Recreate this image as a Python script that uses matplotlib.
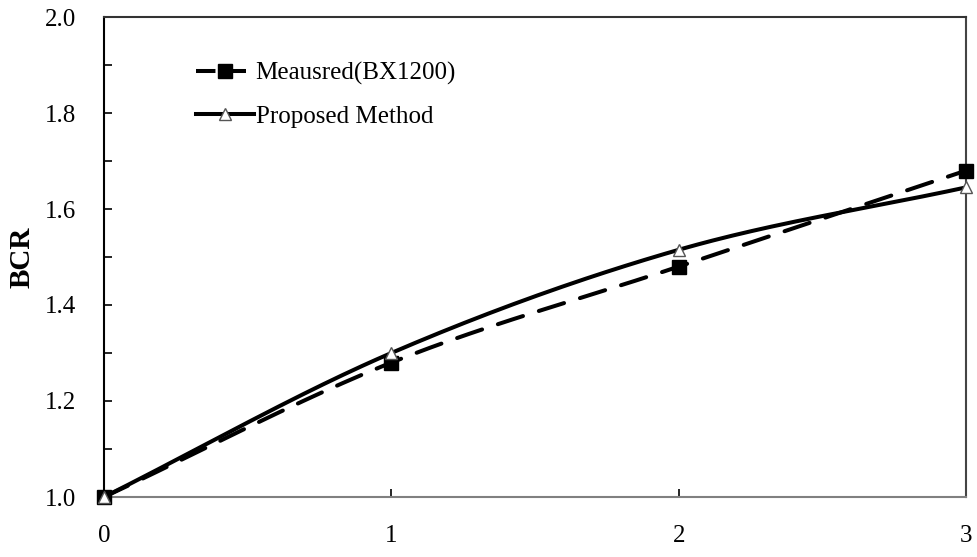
import numpy as np
import matplotlib
matplotlib.use("Agg")
import matplotlib.pyplot as plt
from matplotlib.ticker import MultipleLocator, FormatStrFormatter

# Data
x_vals = [0, 1, 2, 3]
measured = [1.00, 1.28, 1.48, 1.68]
proposed = [1.00, 1.30, 1.515, 1.645]
series_labels = ["Meausred(BX1200)", "Proposed Method"]
y_label = "BCR"


def smooth(xs, ys, n=60):
    """Catmull-Rom smoothing through the data points (spreadsheet-style smoothed line)."""
    xs = np.asarray(xs, float)
    ys = np.asarray(ys, float)
    px = np.concatenate([[2 * xs[0] - xs[1]], xs, [2 * xs[-1] - xs[-2]]])
    py = np.concatenate([[2 * ys[0] - ys[1]], ys, [2 * ys[-1] - ys[-2]]])
    ox, oy = [], []
    t = np.linspace(0, 1, n)
    for i in range(1, len(px) - 2):
        p0, p1, p2, p3 = (np.array([px[j], py[j]]) for j in range(i - 1, i + 3))
        c1 = p1 + (p2 - p0) / 6
        c2 = p2 - (p3 - p1) / 6
        b = ((1 - t) ** 3)[:, None] * p1 + (3 * (1 - t) ** 2 * t)[:, None] * c1 \
            + (3 * (1 - t) * t ** 2)[:, None] * c2 + (t ** 3)[:, None] * p2
        if i > 1:
            b = b[1:]
        ox.extend(b[:, 0])
        oy.extend(b[:, 1])
    return np.array(ox), np.array(oy)


plt.rcParams["font.family"] = ["Liberation Serif", "DejaVu Serif"]
plt.rcParams["lines.scale_dashes"] = False

fig = plt.figure(figsize=(9.77, 5.57), dpi=100)
ax = fig.add_axes([104 / 977, 1 - 497 / 557, 862 / 977, 480 / 557])

lw = 2.9
fs = 18
sx, sy = smooth(x_vals, measured)
ax.plot(sx, sy, color="black", lw=lw, dashes=(19, 12), dash_capstyle="round",
        clip_on=False, zorder=3)
sx2, sy2 = smooth(x_vals, proposed)
ax.plot(sx2, sy2, color="black", lw=lw, solid_capstyle="round", clip_on=False, zorder=3)

ax.plot(x_vals, measured, ls="none", marker="s", ms=9.5, color="black",
        clip_on=False, zorder=4)
ax.plot(x_vals, proposed, ls="none", marker="^", ms=9, mfc="white", mec="#555555",
        mew=1.0, clip_on=False, zorder=5)

# Legend proxies
h1, = ax.plot([], [], color="black", lw=lw, dashes=(14, 8), marker="s", ms=9.5)
h2, = ax.plot([], [], color="black", lw=lw, marker="^", ms=9, mfc="white",
              mec="#555555", mew=1.0)
fig.legend([h1, h2], series_labels, loc="upper left",
           bbox_to_anchor=(196 / 977, 1 - 62 / 557), frameon=False, fontsize=fs,
           handlelength=2.3, handletextpad=0.08, labelspacing=0.8,
           borderpad=0, borderaxespad=0)

ax.set_xlim(0, 3)
ax.set_ylim(1.0, 2.0)
ax.xaxis.set_major_locator(MultipleLocator(1))
ax.yaxis.set_major_locator(MultipleLocator(0.2))
ax.yaxis.set_minor_locator(MultipleLocator(0.1))
ax.yaxis.set_major_formatter(FormatStrFormatter("%.1f"))
ax.tick_params(axis="both", direction="in", length=6, width=1.2, labelsize=fs,
               colors="black")
ax.tick_params(axis="y", which="minor", direction="in", length=6, width=1.2)
ax.tick_params(axis="y", pad=20)
ax.tick_params(axis="x", pad=20)

ax.spines["left"].set_color("black")
ax.spines["top"].set_color("#333333")
ax.spines["right"].set_color("#444444")
ax.spines["bottom"].set_color("#808080")
for s in ax.spines.values():
    s.set_linewidth(1.5)

ax.set_ylabel(y_label, fontsize=21, fontweight="bold", labelpad=7)

fig.savefig("out.png", dpi=100)
